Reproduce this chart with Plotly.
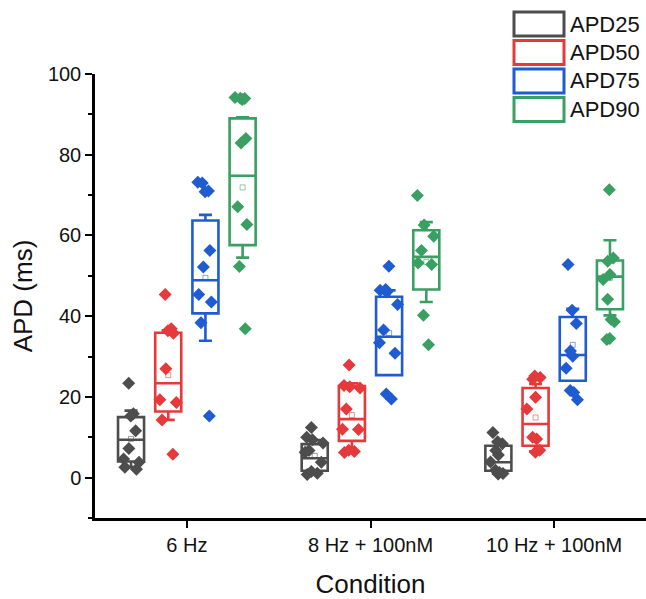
import plotly.graph_objects as go

# ---------------- data ----------------
conditions = ["6 Hz", "8 Hz + 100nM", "10 Hz + 100nM"]
series = ["APD25", "APD50", "APD75", "APD90"]
colors = ["#4d4d4d", "#e5393b", "#1f5bd1", "#3a9f62"]

# individual measurements per condition
apd25_pts = [
    [23.4, 15.8, 15.3, 11.6, 7.2, 4.6, 3.8, 2.6, 2.1],
    [12.4, 10.0, 9.4, 8.6, 6.7, 6.3, 3.8, 1.5, 1.1, 0.8],
    [11.2, 8.9, 8.4, 6.7, 5.6, 3.9, 1.8, 1.3, 1.0, 0.9],
]
apd50_pts = [
    [45.4, 36.9, 36.4, 35.8, 27.0, 19.3, 18.6, 14.3, 5.8],
    [27.9, 22.8, 22.5, 22.2, 17.0, 12.0, 11.9, 6.8, 6.5, 6.2],
    [25.2, 24.8, 24.4, 19.9, 17.0, 10.0, 9.6, 6.8, 6.3],
]
apd75_pts = [
    [73.2, 73.0, 71.0, 70.8, 56.3, 52.2, 45.4, 43.5, 38.4, 15.3],
    [52.4, 46.6, 46.4, 46.0, 42.9, 36.6, 33.4, 30.8, 20.7, 19.5],
    [52.8, 41.5, 38.2, 31.4, 30.1, 27.1, 21.6, 21.1, 19.3],
]
apd90_pts = [
    [94.2, 94.0, 93.9, 93.7, 84.0, 82.9, 67.1, 62.7, 52.3, 36.9],
    [69.9, 62.6, 59.8, 56.3, 53.2, 52.8, 40.2, 32.9],
    [71.3, 54.4, 53.6, 50.3, 49.1, 44.2, 39.2, 38.6, 34.5, 34.2],
]

# box statistics as drawn (25-75 box, median, whiskers = mean +/- SD)
apd25_q1 = [4.0, 1.7, 1.7]
apd25_med = [9.4, 4.8, 3.8]
apd25_q3 = [15.0, 8.3, 7.9]
apd25_lo = [2.6, 1.2, 1.0]
apd25_hi = [16.6, 9.3, 8.8]
apd25_mean = [9.6, 5.4, 5.4]

apd50_q1 = [16.4, 9.1, 7.9]
apd50_med = [23.4, 14.5, 13.3]
apd50_q3 = [35.9, 22.7, 22.2]
apd50_lo = [14.3, 6.6, 6.5]
apd50_hi = [36.5, 23.4, 23.2]
apd50_mean = [25.4, 15.5, 14.9]

apd75_q1 = [40.7, 25.4, 24.0]
apd75_med = [48.9, 34.9, 30.4]
apd75_q3 = [63.7, 44.8, 39.8]
apd75_lo = [33.9, 25.4, 24.0]
apd75_hi = [65.1, 46.4, 41.8]
apd75_mean = [49.5, 35.8, 32.9]

apd90_q1 = [57.6, 46.6, 41.7]
apd90_med = [74.8, 54.7, 49.8]
apd90_q3 = [89.0, 61.3, 53.8]
apd90_lo = [54.5, 43.5, 40.2]
apd90_hi = [89.3, 63.3, 58.8]
apd90_mean = [71.9, 53.4, 49.5]

y_ticks = [0, 20, 40, 60, 80, 100]

points = [apd25_pts, apd50_pts, apd75_pts, apd90_pts]
stats = [
    (apd25_q1, apd25_med, apd25_q3, apd25_lo, apd25_hi, apd25_mean),
    (apd50_q1, apd50_med, apd50_q3, apd50_lo, apd50_hi, apd50_mean),
    (apd75_q1, apd75_med, apd75_q3, apd75_lo, apd75_hi, apd75_mean),
    (apd90_q1, apd90_med, apd90_q3, apd90_lo, apd90_hi, apd90_mean),
]

FONT = "Liberation Sans, Arial, sans-serif"
BOXGAP = 0.19

fig = go.Figure()
for name, col, pts, st in zip(series, colors, points, stats):
    q1, med, q3, lo, hi, mean = st
    fig.add_trace(go.Box(
        x=conditions, q1=q1, median=med, q3=q3, lowerfence=lo, upperfence=hi,
        name=name, offsetgroup=name, alignmentgroup="a",
        line=dict(color=col, width=2.6), fillcolor="rgba(0,0,0,0)",
        whiskerwidth=0.5, boxpoints=False, showlegend=False, hoverinfo="skip",
    ))
    xs, ys = [], []
    for c, vals in zip(conditions, pts):
        xs += [c] * len(vals)
        ys += vals
    fig.add_trace(go.Box(
        x=xs, y=ys, name=name, offsetgroup=name, alignmentgroup="a",
        line=dict(color="rgba(0,0,0,0)", width=0), fillcolor="rgba(0,0,0,0)",
        boxpoints="all", jitter=0.8, pointpos=0,
        marker=dict(symbol="diamond", size=10, color=col, line=dict(width=0)),
        showlegend=False,
    ))
    fig.add_trace(go.Scatter(
        x=conditions, y=mean, mode="markers", offsetgroup=name, alignmentgroup="a",
        marker=dict(symbol="square-open", size=5, color=col, opacity=0.55,
                    line=dict(width=1)),
        showlegend=False, hoverinfo="skip",
    ))

# plot-area geometry (pixels) used for the hand-drawn legend
L, R, T, B = 95, 646, 74, 518
def px(xp):
    return (xp - L) / (R - L)
def py(yp):
    return (B - yp) / (B - T)

shapes, annotations = [], []
for i, (name, col) in enumerate(zip(series, colors)):
    top = 12 + i * 28.5
    shapes.append(dict(type="rect", xref="paper", yref="paper",
                       x0=px(514), x1=px(564), y0=py(top), y1=py(top + 24),
                       line=dict(color=col, width=3), fillcolor="white"))
    annotations.append(dict(text=name, xref="paper", yref="paper",
                            x=px(568), y=py(top + 12), xanchor="left", yanchor="middle",
                            showarrow=False, font=dict(family=FONT, size=22, color="#111")))

fig.update_layout(
    width=646, height=599,
    margin=dict(l=L, r=646 - R, t=T, b=599 - B),
    paper_bgcolor="white", plot_bgcolor="white",
    boxmode="group", boxgap=BOXGAP, boxgroupgap=0.3,
    scattermode="group", scattergap=BOXGAP,
    showlegend=False,
    shapes=shapes, annotations=annotations,
    font=dict(family=FONT, color="#111"),
)
fig.update_xaxes(
    type="category", categoryorder="array", categoryarray=conditions,
    range=[-0.5, 2.5], showline=True, linecolor="black", linewidth=2.5,
    ticks="outside", ticklen=7, tickwidth=2, tickcolor="black",
    tickfont=dict(size=20), showgrid=False, zeroline=False,
    title=dict(text="Condition", font=dict(size=26), standoff=22),
)
fig.update_yaxes(
    range=[-10, 100], tickvals=y_ticks, showline=True, linecolor="black", linewidth=2.5,
    ticks="outside", ticklen=7, tickwidth=2, tickcolor="black",
    minor=dict(dtick=10, tick0=0, ticks="outside", ticklen=4, tickwidth=2, tickcolor="black"),
    tickfont=dict(size=20), showgrid=False, zeroline=False,
    title=dict(text="APD (ms)", font=dict(size=26), standoff=8),
)

fig.write_html(
    "out.html",
    config={"displayModeBar": False},
    post_script="document.body.style.margin='0';document.body.style.overflow='hidden';",
)
